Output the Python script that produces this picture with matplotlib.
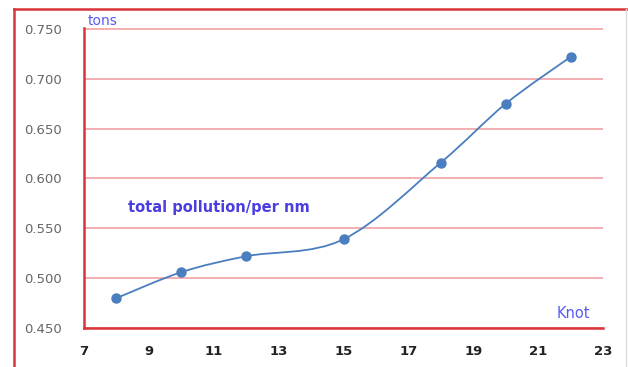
import numpy as np
import matplotlib.pyplot as plt
from matplotlib.path import Path
from matplotlib.patches import PathPatch
from matplotlib.lines import Line2D

# speed (knot) vs total pollution per nm (tons)
knots = [8, 10, 12, 15, 18, 20, 22]
pollution = [0.480, 0.506, 0.522, 0.539, 0.616, 0.675, 0.722]
x_ticks = [7, 9, 11, 13, 15, 17, 19, 21, 23]
y_ticks = [0.450, 0.500, 0.550, 0.600, 0.650, 0.700, 0.750]

RED = '#d9343a'
GRID = '#f2a9ab'
LINE = '#4a7ebf'
BLUE_TXT = '#5a5af0'

fig = plt.figure(figsize=(6.28, 3.67), dpi=100)
ax = fig.add_axes([84 / 628, 39 / 367, 519 / 628, 300 / 367])

# smoothed line (excel-like smoothing) built as cubic bezier through the points
def smooth_path(xs, ys, t=1 / 6):
    pts = np.column_stack([xs, ys])
    verts = [pts[0]]
    codes = [Path.MOVETO]
    n = len(pts)
    for i in range(n - 1):
        p0 = pts[i - 1] if i > 0 else pts[i]
        p1 = pts[i]
        p2 = pts[i + 1]
        p3 = pts[i + 2] if i + 2 < n else pts[i + 1]
        c1 = p1 + (p2 - p0) * t
        c2 = p2 - (p3 - p1) * t
        verts += [c1, c2, p2]
        codes += [Path.CURVE4] * 3
    return Path(verts, codes)

ax.add_patch(PathPatch(smooth_path(knots, pollution), fill=False,
                       edgecolor=LINE, lw=1.3, zorder=3))
ax.plot(knots, pollution, 'o', color=LINE, ms=6.5, zorder=4)

ax.set_xlim(7, 23)
ax.set_ylim(0.450, 0.751)
ax.set_xticks(x_ticks)
ax.set_yticks(y_ticks)
ax.set_yticklabels(['%.3f' % v for v in y_ticks], color='#666666', fontsize=9.5)
ax.set_xticklabels([str(v) for v in x_ticks], color='#222222', fontsize=9.5,
                   fontweight='bold')
ax.tick_params(axis='x', length=0, pad=12)
ax.tick_params(axis='y', length=0, pad=16)
ax.grid(axis='y', color=GRID, lw=1.3)
ax.set_axisbelow(True)
for s in ['top', 'right']:
    ax.spines[s].set_visible(False)
for s in ['left', 'bottom']:
    ax.spines[s].set_color(RED)
    ax.spines[s].set_linewidth(1.8)

ax.text(0.007, 1.0, 'tons', transform=ax.transAxes, color=BLUE_TXT,
        fontsize=10, va='bottom', ha='left')
ax.text(0.975, 0.025, 'Knot', transform=ax.transAxes, color=BLUE_TXT,
        fontsize=10.5, va='bottom', ha='right')
ax.text(8.35, 0.571, 'total pollution/per nm', color='#4a3ee0', fontsize=10.5,
        fontweight='bold', va='center', ha='left')

# outer chart border
fig.add_artist(Line2D([14 / 628, 14 / 628], [0, 1 - 9 / 367], color=RED, lw=1.8,
                      transform=fig.transFigure))
fig.add_artist(Line2D([14 / 628, 1], [1 - 9 / 367, 1 - 9 / 367], color=RED, lw=1.8,
                      transform=fig.transFigure))
fig.add_artist(Line2D([626 / 628, 626 / 628], [0, 1 - 9 / 367], color='#dddddd',
                      lw=1, transform=fig.transFigure))

fig.savefig('out.png', dpi=100)
